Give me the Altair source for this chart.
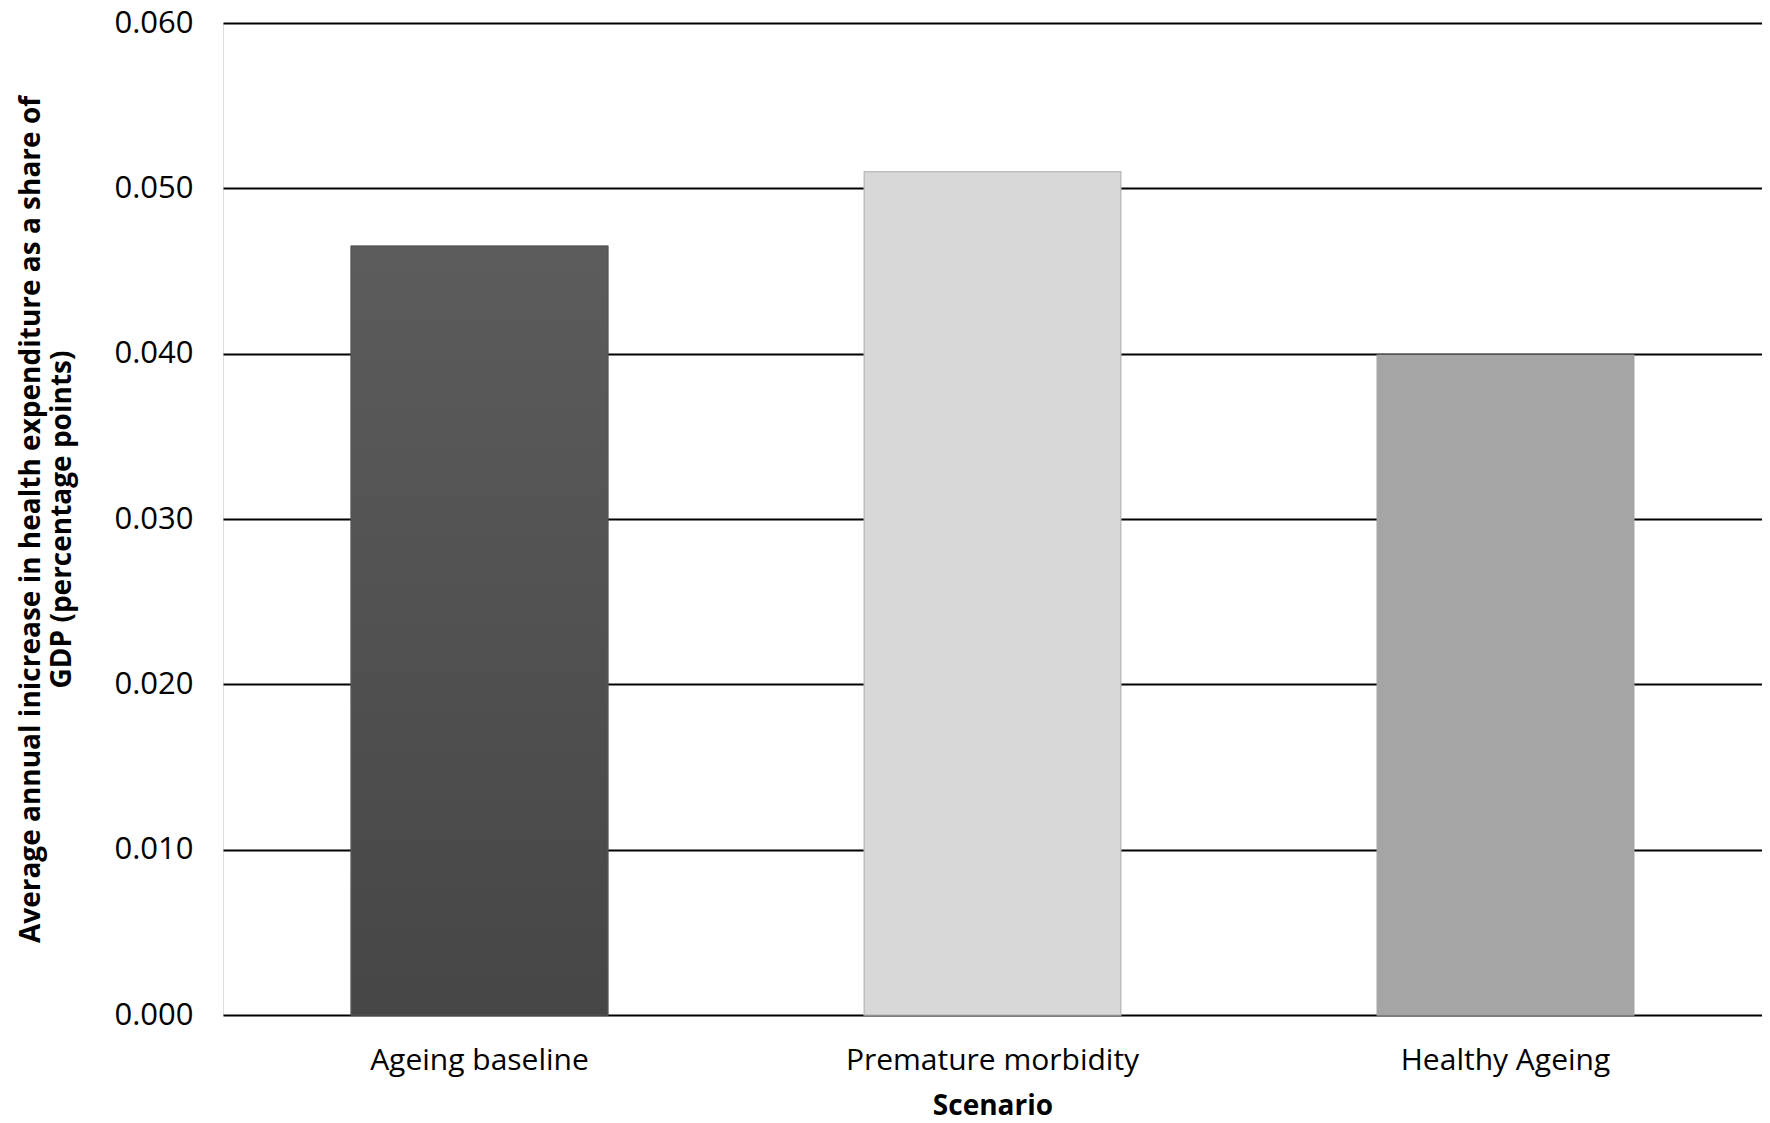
import altair as alt
import pandas as pd

scenarios = ["Ageing baseline", "Premature morbidity", "Healthy Ageing"]
values = [0.0465, 0.0510, 0.0399]
fills = ["#505050", "#d8d8d8", "#a5a5a5"]
strokes = ["#505050", "#bdbdbd", "#a5a5a5"]
y_ticks = [0.0, 0.01, 0.02, 0.03, 0.04, 0.05, 0.06]

df = pd.DataFrame({"Scenario": scenarios, "value": values})

FONT = "Open Sans"

x_enc = alt.X(
    "Scenario:N",
    sort=scenarios,
    scale=alt.Scale(paddingInner=0.5, paddingOuter=0.25),
    axis=alt.Axis(
        title="Scenario",
        labelAngle=0,
        labelFontSize=30,
        labelColor="#000000",
        labelFont=FONT,
        labelPadding=30,
        labelLimit=0,
        ticks=False,
        grid=False,
        domain=False,
        titleFont=FONT,
        titleFontSize=28,
        titleFontWeight="bold",
        titleColor="#000000",
        titlePadding=17,
    ),
)

y_enc = alt.Y(
    "value:Q",
    scale=alt.Scale(domain=[0, 0.06], nice=False),
    axis=alt.Axis(
        values=y_ticks,
        format=".3f",
        title=["Average annual inicrease in health expenditure as a share of",
               "GDP (percentage points)"],
        labelFontSize=31,
        labelFont=FONT,
        labelColor="#000000",
        labelPadding=30,
        ticks=False,
        domain=False,
        grid=True,
        gridColor="#000000",
        gridWidth=2,
        titleFont=FONT,
        titleFontSize=28,
        titleFontWeight="bold",
        titleColor="#000000",
        titleLineHeight=31,
        titlePadding=37,
    ),
)

bars = alt.Chart(df).mark_bar(strokeWidth=1.5).encode(
    x=x_enc,
    y=y_enc,
    fill=alt.Fill("Scenario:N", scale=alt.Scale(domain=scenarios, range=fills), legend=None),
    stroke=alt.Stroke("Scenario:N", scale=alt.Scale(domain=scenarios, range=strokes), legend=None),
)

grad = alt.Chart(df).transform_filter(
    alt.datum.Scenario == scenarios[0]
).mark_bar(
    fill=alt.Gradient(
        gradient="linear",
        stops=[alt.GradientStop(color="#5c5c5c", offset=0),
               alt.GradientStop(color="#464646", offset=1)],
        x1=0, x2=0, y1=0, y2=1,
    ),
    stroke="#555555",
    strokeWidth=1,
).encode(
    x=x_enc,
    y=y_enc,
)

chart = alt.layer(bars, grad).properties(
    width=1539,
    height=992,
    autosize=alt.AutoSizeParams(type="none"),
    padding={"left": 215, "top": 15, "right": 0, "bottom": 108},
).configure_view(
    strokeWidth=0
).configure_axis(domain=False, grid=False).configure_axisY(domain=False, grid=True).configure(background="#ffffff")

chart.save("out.html", embed_options={"renderer": "svg", "actions": False})
